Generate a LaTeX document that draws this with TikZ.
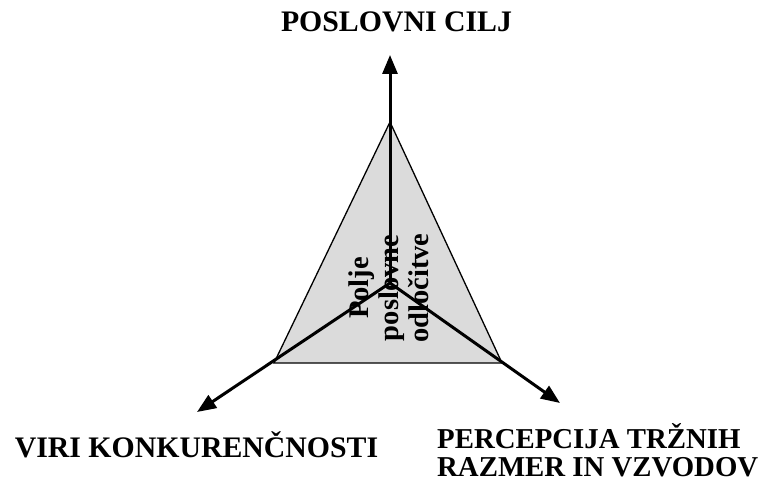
\documentclass[tikz,border=0pt]{standalone}
\usepackage{fontspec}
\setmainfont{Liberation Serif}
\usetikzlibrary{arrows.meta}
\begin{document}
\begin{tikzpicture}[x=1pt,y=-1pt,
  axis/.style={line width=3pt,-{Triangle[length=19pt,width=15pt]}},
  label/.style={font=\bfseries\fontsize{29.8}{28}\selectfont,inner sep=0pt},
  field/.style={draw=black,line width=1.3pt,fill=black!14,line join=miter}]
\useasboundingbox (0,0) rectangle (763,495);
\coordinate (apex) at (390,122);
\coordinate (bl) at (274,363);
\coordinate (br) at (502,363);
\coordinate (c) at (390,283);
\coordinate (tup) at (390,55);
\coordinate (tleft) at (197,412);
\coordinate (tright) at (560,403);
\draw[field] (apex) -- (bl) -- (br) -- cycle;
\node[label,rotate=90,align=center,font=\bfseries\fontsize{28.5}{30}\selectfont] (txt) at (389,288) {Polje\\poslovne\\odločitve};
\draw[axis] (c) -- (tup);
\draw[axis] (c) -- (tleft);
\draw[axis] (c) -- (tright);
\node[label,anchor=base] (goal) at (396.5,32) {POSLOVNI CILJ};
\node[label,anchor=base] (viri) at (196.5,457) {VIRI KONKURENČNOSTI};
\node[label,anchor=north west,align=left,font=\bfseries\fontsize{28.8}{28}\selectfont] (perc) at (437,423) {PERCEPCIJA TRŽNIH\\RAZMER IN VZVODOV};
\end{tikzpicture}
\end{document}
